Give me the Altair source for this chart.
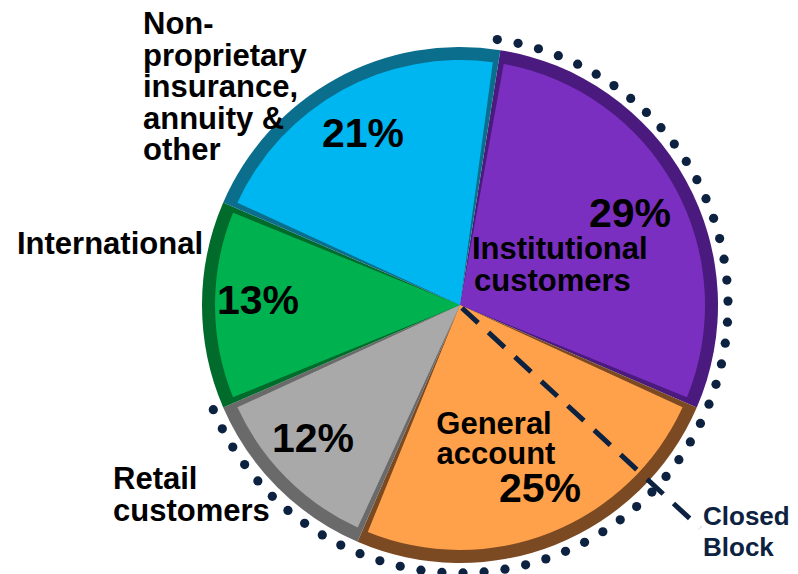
import math
import numpy as np
import pandas as pd
import altair as alt

# ---- data ----
categories = ["Institutional customers", "General account", "Retail customers",
              "International", "Non-proprietary insurance, annuity & other"]
shares = [29, 25, 12, 13, 21]
pct_labels = ["29%", "25%", "12%", "13%", "21%"]
fill_colors = ["#7A2FC0", "#FFA04A", "#A9A9A9", "#00B14F", "#00B6F0"]
edge_colors = ["#4B1A7E", "#7B4A23", "#6A6A6A", "#006B2B", "#0A6E8C"]

# ---- layout (chart pixel coordinates) ----
CX, CY, R = 452, 297, 258
START = math.radians(9)

pie = pd.DataFrame({
    "category": categories,
    "face": categories,
    "share": shares,
    "order": list(range(len(categories))),
})

theta = alt.Theta("share:Q", stack=True,
                  scale=alt.Scale(range=[START, START + 2 * math.pi]))
order = alt.Order("order:Q")

edge = alt.Chart(pie).mark_arc(radius=R, stroke=None).encode(
    theta=theta, order=order,
    color=alt.Color("category:N", scale=alt.Scale(domain=categories, range=edge_colors), legend=None),
    x=alt.value(CX), y=alt.value(CY),
)
face = alt.Chart(pie).mark_arc(radius=R - 13, padAngle=0.045, stroke=None).encode(
    theta=theta, order=order,
    color=alt.Color("face:N", scale=alt.Scale(domain=categories, range=fill_colors), legend=None),
    x=alt.value(CX), y=alt.value(CY),
)

# dotted "Closed Block" ring (decoration)
dot_angles = np.linspace(8, 247, 54)
dots_df = pd.DataFrame({"a": dot_angles})
dots = alt.Chart(dots_df).mark_circle(size=85, opacity=1, color="#0D2240").transform_calculate(
    px=f"{CX} + 268*sin(datum.a*PI/180)",
    py=f"{CY} - 268*cos(datum.a*PI/180)",
).encode(
    x=alt.X("px:Q", scale=None),
    y=alt.Y("py:Q", scale=None),
)

# dashed line
dash = alt.Chart(pd.DataFrame({"k": [0]})).mark_rule(
    color="#0D2240", strokeWidth=5, strokeDash=[22, 14]
).encode(x=alt.value(CX + 2), y=alt.value(CY + 3), x2=alt.value(692), y2=alt.value(520))

# percentage labels
pct_x = [622, 532, 305, 250, 355]
pct_y = [207, 482, 432, 294, 127]
pct_df = pd.DataFrame({"t": pct_labels, "px": pct_x, "py": pct_y})
pcts = alt.Chart(pct_df).mark_text(
    font="Liberation Sans", fontWeight="bold", fontSize=41, color="black",
    align="center", baseline="middle",
).encode(x=alt.X("px:Q", scale=None), y=alt.Y("py:Q", scale=None), text="t:N")

# category labels, one row per line
lab_text = ["Institutional", "customers", "General", "account", "Retail", "customers",
            "International", "Non-", "proprietary", "insurance,", "annuity &", "other"]
lab_x = [464, 466, 486, 488, 105, 105, 9, 135, 135, 135, 135, 135]
lab_y = [242, 274, 417, 447, 472, 504, 237, 17, 49, 80, 112, 143]
lab_align = ["left", "left", "center", "center", "left", "left", "left",
             "left", "left", "left", "left", "left"]
lab_df = pd.DataFrame({"t": lab_text, "px": lab_x, "py": lab_y, "al": lab_align})

def label_layer(al):
    return alt.Chart(lab_df).transform_filter(alt.datum.al == al).mark_text(
        font="Liberation Sans", fontWeight="bold", fontSize=31, color="black",
        align=al, baseline="middle",
    ).encode(x=alt.X("px:Q", scale=None), y=alt.Y("py:Q", scale=None), text="t:N")

closed_df = pd.DataFrame({"t": ["Closed", "Block"], "px": [695, 695], "py": [509, 540]})
closed = alt.Chart(closed_df).mark_text(
    font="Liberation Sans", fontWeight="bold", fontSize=26, color="#0D2240",
    align="left", baseline="middle",
).encode(x=alt.X("px:Q", scale=None), y=alt.Y("py:Q", scale=None), text="t:N")

chart = alt.layer(
    edge, face, dots, dash, pcts, label_layer("left"), label_layer("center"), closed
).resolve_scale(color="independent").properties(
    width=782, height=558, padding=0
).configure_view(stroke=None)

chart.save("out.html", embed_options={"renderer": "svg", "actions": False})
